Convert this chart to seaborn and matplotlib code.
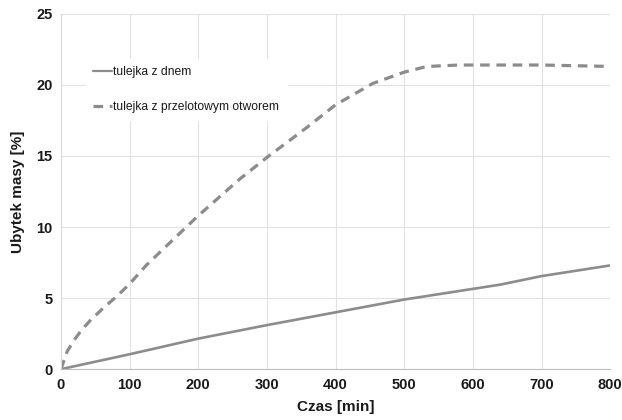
import matplotlib
matplotlib.use("Agg")
import matplotlib.pyplot as plt
import seaborn as sns
import pandas as pd

time_solid = [0, 100, 200, 300, 400, 500, 600, 640, 700, 800]
mass_solid = [0.0, 1.05, 2.15, 3.1, 4.0, 4.9, 5.65, 5.95, 6.55, 7.3]

time_dashed = [0, 9, 20, 30, 44, 64, 83, 100, 124, 150, 176, 200, 261, 300, 358, 400, 454, 500, 533, 580, 650, 700, 800]
mass_dashed = [0.0, 1.25, 2.1, 2.75, 3.5, 4.4, 5.2, 6.0, 7.3, 8.5, 9.7, 10.8, 13.4, 14.9, 17.0, 18.6, 20.1, 20.9, 21.3, 21.4, 21.4, 21.4, 21.3]

label_solid = "tulejka z dnem"
label_dashed = "tulejka z przelotowym otworem"
xticks = [0, 100, 200, 300, 400, 500, 600, 700, 800]
yticks = [0, 5, 10, 15, 20, 25]

sns.set_theme(style="white")
plt.rcParams['font.family'] = ['Liberation Sans', 'DejaVu Sans']

fig = plt.figure(figsize=(6.22, 4.2), dpi=100)
ax = fig.add_axes([0.098, 0.121, 0.883, 0.846])

df_s = pd.DataFrame({"t": time_solid, "m": mass_solid})
df_d = pd.DataFrame({"t": time_dashed, "m": mass_dashed})
col = "#8c8c8c"
sns.lineplot(data=df_s, x="t", y="m", ax=ax, color=col, linewidth=1.9, label=label_solid)
sns.lineplot(data=df_d, x="t", y="m", ax=ax, color=col, linewidth=2.3, label=label_dashed,
             dashes=False)
ax.lines[1].set_dashes([3.0, 2.1])

ax.set_xlim(0, 800)
ax.set_ylim(0, 25)
ax.set_xticks(xticks)
ax.set_yticks(yticks)
ax.grid(True, color="#e2e2e2", linewidth=0.8)
ax.set_axisbelow(True)
for s in ["top", "right"]:
    ax.spines[s].set_visible(False)
ax.spines["left"].set_color("#d9d9d9")
ax.spines["bottom"].set_color("#bdbdbd")
ax.spines["left"].set_linewidth(0.8)
ax.spines["bottom"].set_linewidth(0.8)
ax.tick_params(axis="both", length=0, labelsize=10.5, pad=6, colors="#1a1a1a")
for lab in ax.get_xticklabels() + ax.get_yticklabels():
    lab.set_fontweight("bold")
ax.set_xlabel("Czas [min]", fontsize=11, fontweight="bold", color="#1a1a1a", labelpad=6)
ax.set_ylabel("Ubytek masy [%]", fontsize=11, fontweight="bold", color="#1a1a1a", labelpad=8)

leg = ax.legend(loc="upper left", bbox_to_anchor=(0.035, 0.89), frameon=True, fontsize=8.7,
                handlelength=1.5, handletextpad=0.15, labelspacing=1.9, borderpad=0.6)
leg.get_frame().set_edgecolor("white")
leg.get_frame().set_facecolor("white")
leg.get_frame().set_alpha(1)
for h in leg.get_lines():
    h.set_linewidth(1.6)
leg.get_lines()[1].set_linewidth(2.3)
for t in leg.get_texts():
    t.set_color("#1a1a1a")

fig.savefig("out.png", dpi=100)
